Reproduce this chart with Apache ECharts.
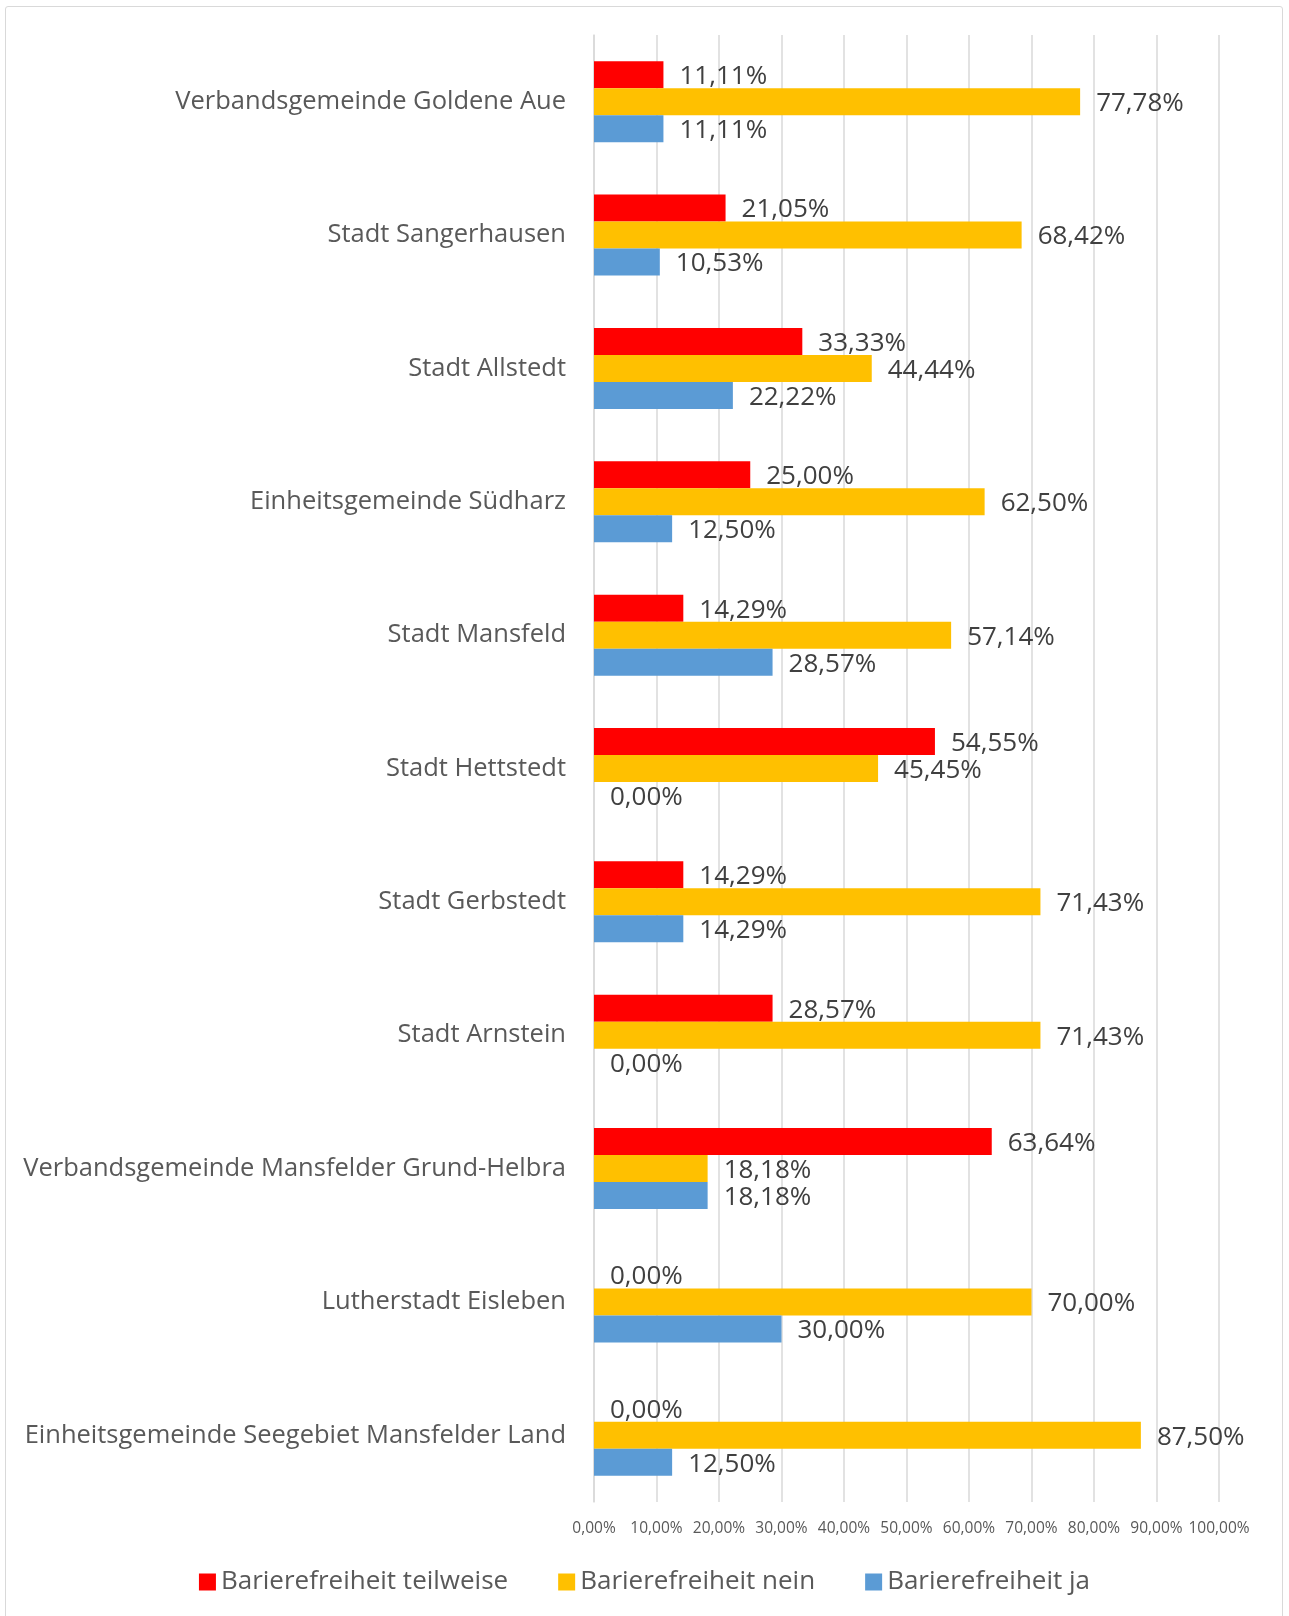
<!DOCTYPE html>
<html>
<head>
<meta charset="utf-8">
<script src="https://cdn.jsdelivr.net/npm/echarts@6/dist/echarts.min.js"></script>
<style>
  body { margin: 0; background: #fff; }
  #frame { position: absolute; left: 5px; top: 6px; width: 1278px; height: 1640px; border: 1px solid #d9d9d9; border-radius: 3px; box-sizing: border-box; }
  #main { position: absolute; left: 0; top: 0; width: 1289px; height: 1616px; }
</style>
</head>
<body>
<div id="frame"></div>
<div id="main"></div>
<script>
const kategorien = [
    'Verbandsgemeinde Goldene Aue',
    'Stadt Sangerhausen',
    'Stadt Allstedt',
    'Einheitsgemeinde Südharz',
    'Stadt Mansfeld',
    'Stadt Hettstedt',
    'Stadt Gerbstedt',
    'Stadt Arnstein',
    'Verbandsgemeinde Mansfelder Grund-Helbra',
    'Lutherstadt Eisleben',
    'Einheitsgemeinde Seegebiet Mansfelder Land'
];
const teilweise = [11.11, 21.05, 33.33, 25.00, 14.29, 54.55, 14.29, 28.57, 63.64, 0, 0];
const nein = [77.78, 68.42, 44.44, 62.50, 57.14, 45.45, 71.43, 71.43, 18.18, 70.00, 87.50];
const ja = [11.11, 10.53, 22.22, 12.50, 28.57, 0, 14.29, 0, 18.18, 30.00, 12.50];

const schrift = '"Open Sans", sans-serif';

function prozent(v) {
    return Number(v).toFixed(2).replace('.', ',') + '%';
}

function serie(name, daten, farbe) {
    return {
        name: name,
        type: 'bar',
        data: daten,
        barWidth: 27,
        barGap: '0%',
        itemStyle: { color: farbe },
        label: {
            show: true,
            position: 'right',
            distance: 16,
            offset: [0, 2],
            color: '#404040',
            fontSize: 26,
            fontFamily: schrift,
            formatter: function (p) { return prozent(p.value); }
        }
    };
}

let myChart = echarts.init(document.getElementById('main'));
myChart.setOption({
    animation: false,
    grid: { left: 594, right: 70, top: 35, bottom: 114 },
    legend: {
        bottom: 16,
        left: 'center',
        itemWidth: 17,
        itemHeight: 17,
        itemGap: 50,
        icon: 'rect',
        textStyle: { color: '#595959', fontSize: 26, fontFamily: schrift },
        data: ['Barierefreiheit teilweise', 'Barierefreiheit nein', 'Barierefreiheit ja']
    },
    xAxis: {
        type: 'value',
        min: 0,
        max: 100,
        interval: 10,
        axisLine: { show: false },
        axisTick: { show: false },
        splitLine: { lineStyle: { color: '#d9d9d9', width: 1.5 } },
        axisLabel: {
            margin: 19,
            color: '#595959',
            fontSize: 15.5,
            fontFamily: schrift,
            formatter: prozent
        }
    },
    yAxis: {
        type: 'category',
        inverse: true,
        data: kategorien,
        axisLine: { lineStyle: { color: '#d9d9d9', width: 1.5 } },
        axisTick: { show: false },
        axisLabel: {
            margin: 28,
            padding: [8, 0, 0, 0],
            color: '#595959',
            fontSize: 25.5,
            fontFamily: schrift
        }
    },
    series: [
        serie('Barierefreiheit teilweise', teilweise, '#ff0000'),
        serie('Barierefreiheit nein', nein, '#ffc000'),
        serie('Barierefreiheit ja', ja, '#5b9bd5')
    ]
});
</script>
</body>
</html>
